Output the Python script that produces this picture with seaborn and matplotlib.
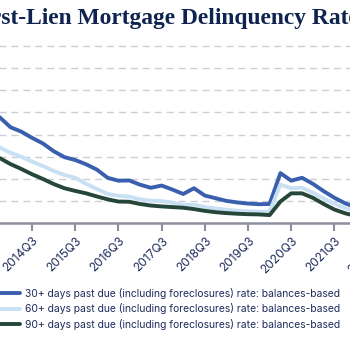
import seaborn as sns
from matplotlib import pyplot as plt
import pandas as pd

# quarters shown (2013Q4 .. 2022Q1)
quarters = ["2013Q4",
            "2014Q1", "2014Q2", "2014Q3", "2014Q4",
            "2015Q1", "2015Q2", "2015Q3", "2015Q4",
            "2016Q1", "2016Q2", "2016Q3", "2016Q4",
            "2017Q1", "2017Q2", "2017Q3", "2017Q4",
            "2018Q1", "2018Q2", "2018Q3", "2018Q4",
            "2019Q1", "2019Q2", "2019Q3", "2019Q4",
            "2020Q1", "2020Q2", "2020Q3", "2020Q4",
            "2021Q1", "2021Q2", "2021Q3", "2021Q4",
            "2022Q1"]

rate_30 = [4.78, 4.33, 4.13, 3.85, 3.60, 3.25, 2.98, 2.85, 2.66,
           2.42, 2.05, 1.92, 1.93, 1.74, 1.60, 1.70, 1.52,
           1.32, 1.58, 1.25, 1.13, 1.01, 0.94, 0.89, 0.86,
           0.87, 2.26, 1.92, 2.05, 1.78, 1.45, 1.15, 0.90,
           0.72]
rate_60 = [3.42, 3.18, 3.00, 2.78, 2.58, 2.36, 2.18, 2.05, 1.78,
           1.55, 1.32, 1.24, 1.20, 1.08, 1.02, 1.00, 0.93,
           0.82, 0.84, 0.73, 0.67, 0.61, 0.57, 0.54, 0.52,
           0.52, 1.74, 1.58, 1.60, 1.38, 1.12, 0.88, 0.68,
           0.55]
rate_90 = [2.94, 2.67, 2.45, 2.21, 2.00, 1.77, 1.58, 1.46, 1.35,
           1.21, 1.08, 0.98, 0.97, 0.87, 0.80, 0.76, 0.73,
           0.70, 0.64, 0.56, 0.50, 0.46, 0.43, 0.41, 0.40,
           0.37, 0.98, 1.35, 1.35, 1.15, 0.87, 0.62, 0.45,
           0.33]

series_names = ["30+ days past due (including foreclosures) rate: balances-based",
                "60+ days past due (including foreclosures) rate: balances-based",
                "90+ days past due (including foreclosures) rate: balances-based"]
colors = ["#3a5fae", "#c8e0f4", "#26463a"]

tick_labels = ["2014Q3", "2015Q3", "2016Q3", "2017Q3", "2018Q3",
               "2019Q3", "2020Q3", "2021Q3", "2022Q3"]
title = "First-Lien Mortgage Delinquency Rates"


def qpos(s):
    return int(s[:4]) + (int(s[-1]) - 1) / 4


df = pd.concat([
    pd.DataFrame({"t": [qpos(q) for q in quarters], "rate": vals, "series": name})
    for name, vals in zip(series_names, [rate_30, rate_60, rate_90])
])

sns.set_theme(style="white")
plt.rcParams['font.family'] = ['Inter', 'DejaVu Sans']

navy = "#1f2c5c"
fig = plt.figure(figsize=(3.5, 3.5), dpi=100)
# axes deliberately larger than the figure (cropped view)
ax = fig.add_axes([-32.8 / 350, 126.7 / 350, 432 / 350, 8.5 * 22.2 / 350])

sns.lineplot(data=df, x="t", y="rate", hue="series", palette=colors,
             linewidth=2.8, ax=ax)

ax.set_xlim(2013, 2023)
ax.set_ylim(0, 8.5)
ax.set_yticks(range(1, 9))
ax.set_yticklabels([])
ax.tick_params(axis="y", length=0)
ax.yaxis.grid(True, linestyle=(0, (5, 3.6)), color="#cbcdd9", linewidth=1)
ax.set_axisbelow(True)

ax.set_xticks([qpos(s) for s in tick_labels])
ax.set_xticklabels(tick_labels, rotation=45, ha="right", rotation_mode="anchor",
                   fontsize=8.6, color=navy)
ax.tick_params(axis="x", direction="out", length=6, width=1.5, color="#8c8fa0",
               pad=2, bottom=True)
for side in ["left", "right", "top"]:
    ax.spines[side].set_visible(False)
ax.spines["bottom"].set_color("#8c8fa0")
ax.spines["bottom"].set_linewidth(1.8)
ax.set_xlabel("")
ax.set_ylabel("")

handles, labels = ax.get_legend_handles_labels()
leg = ax.legend(handles, labels, loc="upper left", bbox_to_anchor=(-11 / 350, 0.178),
                bbox_transform=fig.transFigure, frameon=False, fontsize=7.45,
                handlelength=2.95, handletextpad=0.5, labelspacing=0.45,
                borderpad=0, borderaxespad=0)
for txt in leg.get_texts():
    txt.set_color(navy)
for line in leg.get_lines():
    line.set_linewidth(2.8)

fig.text(-30.5 / 350, (350 - 24) / 350, title, ha="left", va="baseline",
         fontsize=16.9, fontweight="bold", color="#0f2350", family="Liberation Serif")

plt.savefig("out.png", dpi=100)
